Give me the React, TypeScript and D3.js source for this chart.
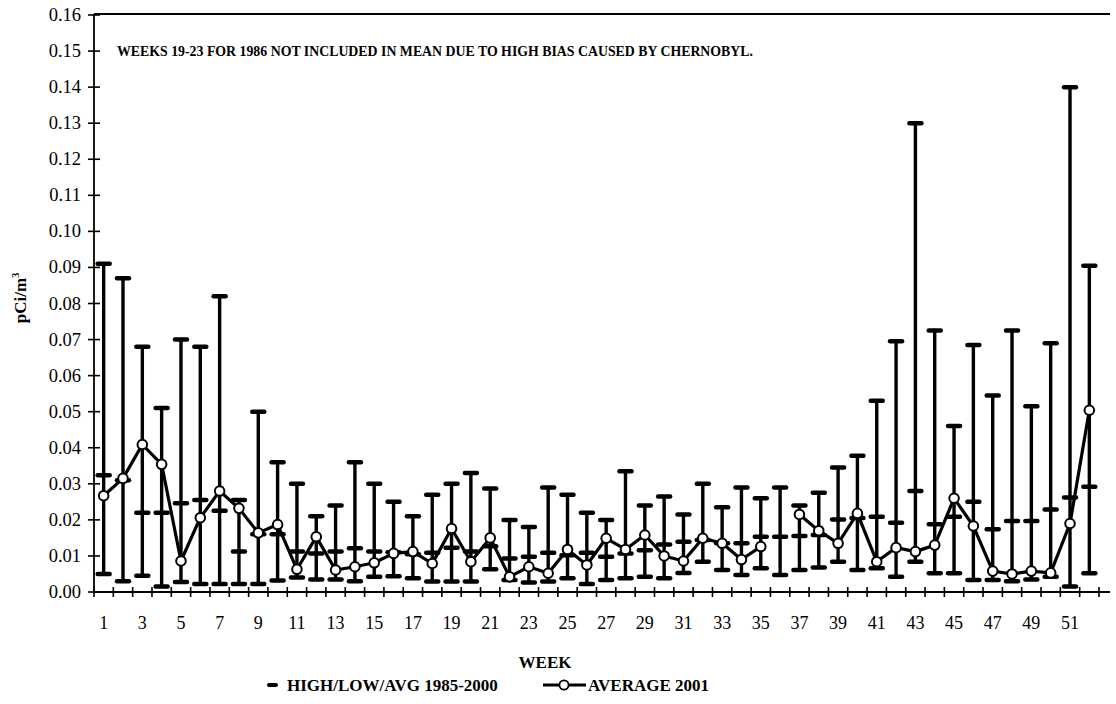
import React, {useEffect, useRef} from 'react';
import * as d3 from 'd3';

const width = 1116;
const height = 704;
const FONT = '"Liberation Serif", "Times New Roman", serif';

// weeks 1..52
const weeks = d3.range(1, 53);

// 1985-2000 high / low / avg per week
const highs = [0.091, 0.087, 0.068, 0.051, 0.070, 0.068, 0.082, 0.0255, 0.050, 0.036,
    0.030, 0.021, 0.024, 0.036, 0.030, 0.025, 0.021, 0.027, 0.030, 0.033,
    0.0287, 0.020, 0.018, 0.029, 0.027, 0.022, 0.020, 0.0335, 0.024, 0.0265,
    0.0215, 0.030, 0.0235, 0.029, 0.026, 0.029, 0.024, 0.0275, 0.0345, 0.0378,
    0.053, 0.0695, 0.130, 0.0725, 0.046, 0.0685, 0.0545, 0.0725, 0.0515, 0.069,
    0.140, 0.0905];
const lows = [0.005, 0.003, 0.0045, 0.0015, 0.0028, 0.0022, 0.0022, 0.0022, 0.0022, 0.0032,
    0.004, 0.0035, 0.0035, 0.003, 0.0042, 0.0044, 0.0038, 0.0029, 0.0029, 0.0029,
    0.0063, 0.0033, 0.0026, 0.0029, 0.0038, 0.0022, 0.0033, 0.0038, 0.0042, 0.0038,
    0.0053, 0.0084, 0.0061, 0.0047, 0.0066, 0.0047, 0.0061, 0.0068, 0.0084, 0.0061,
    0.0066, 0.0042, 0.0084, 0.0052, 0.0052, 0.0033, 0.0033, 0.003, 0.0035, 0.0042,
    0.0015, 0.0052];
const avgs = [0.0324, 0.031, 0.022, 0.022, 0.0246, 0.0255, 0.0225, 0.0112, 0.016, 0.016,
    0.0112, 0.0107, 0.0112, 0.0121, 0.0112, 0.011, 0.0105, 0.0109, 0.0123, 0.0112,
    0.0127, 0.0093, 0.0098, 0.0109, 0.0102, 0.0109, 0.0098, 0.0107, 0.0116, 0.0132,
    0.0139, 0.0144, 0.0135, 0.0135, 0.0153, 0.0153, 0.0155, 0.0158, 0.0201, 0.0205,
    0.0209, 0.0192, 0.028, 0.0188, 0.0209, 0.025, 0.0174, 0.0197, 0.0197, 0.0229,
    0.0262, 0.0292];
// 2001 weekly average (week 36 missing)
const avg2001 = [0.0267, 0.0315, 0.0409, 0.0354, 0.0086, 0.0206, 0.028, 0.0232, 0.0164, 0.0187,
    0.0063, 0.0153, 0.0061, 0.007, 0.0081, 0.0107, 0.0112, 0.0079, 0.0176, 0.0084,
    0.015, 0.0042, 0.007, 0.0052, 0.0118, 0.0075, 0.0149, 0.0118, 0.0158, 0.01,
    0.0086, 0.0149, 0.0135, 0.009, 0.0126, null, 0.0215, 0.017, 0.0135, 0.0218,
    0.0084, 0.0123, 0.0112, 0.013, 0.026, 0.0183, 0.0058, 0.005, 0.0058, 0.0053,
    0.019, 0.0504];

const yTicks = d3.range(0, 17).map(i => i / 100);
const xLabels = weeks.filter(w => w % 2 === 1 && w <= 51);

const NOTE = 'WEEKS 19-23 FOR 1986 NOT INCLUDED IN MEAN DUE TO HIGH BIAS CAUSED BY CHERNOBYL.';

const App = () => {
    const ref = useRef<SVGSVGElement>(null);

    useEffect(() => {
        const svg = d3.select(ref.current);
        svg.selectAll('*').remove();

        const left = 94, right = 1099, top = 15, bottom = 592;
        const x = d3.scaleBand<number>().domain(weeks).range([left, right]);
        const y = d3.scaleLinear().domain([0, 0.16]).range([bottom, top]);
        const cx = (w: number) => (x(w) as number) + x.bandwidth() / 2;

        const g = svg.append('g');

        // frame: top border, y axis, x axis
        g.append('line').attr('x1', left).attr('x2', 1110).attr('y1', 14).attr('y2', 14)
            .attr('stroke', '#000').attr('stroke-width', 1.8);
        g.append('line').attr('x1', left).attr('x2', left).attr('y1', 14).attr('y2', bottom)
            .attr('stroke', '#000').attr('stroke-width', 1.8);
        g.append('line').attr('x1', left).attr('x2', 1110).attr('y1', bottom).attr('y2', bottom)
            .attr('stroke', '#000').attr('stroke-width', 2.2);

        // y ticks + labels
        g.selectAll('.yt').data(yTicks).enter().append('line')
            .attr('x1', left - 6).attr('x2', left + 6)
            .attr('y1', d => y(d)).attr('y2', d => y(d))
            .attr('stroke', '#000').attr('stroke-width', 1.6);
        g.selectAll('.yl').data(yTicks).enter().append('text')
            .attr('x', left - 13).attr('y', d => y(d) + 6)
            .attr('text-anchor', 'end')
            .style('font-family', FONT).style('font-size', '18.5px')
            .text(d => d3.format('.2f')(d));

        // x ticks at week boundaries
        const bounds = d3.range(0, 53).map(i => left + i * x.step());
        g.selectAll('.xt').data(bounds).enter().append('line')
            .attr('x1', d => d).attr('x2', d => d)
            .attr('y1', bottom - 5).attr('y2', bottom + 5)
            .attr('stroke', '#000').attr('stroke-width', 1.6);
        g.selectAll('.xl').data(xLabels).enter().append('text')
            .attr('x', d => cx(d)).attr('y', 629)
            .attr('text-anchor', 'middle')
            .style('font-family', FONT).style('font-size', '18px')
            .text(d => d);

        // high/low bars
        const cap = 6;
        weeks.forEach((w, i) => {
            const px = cx(w);
            g.append('line').attr('x1', px).attr('x2', px)
                .attr('y1', y(lows[i])).attr('y2', y(highs[i]))
                .attr('stroke', '#000').attr('stroke-width', 3.4);
            [highs[i], lows[i], avgs[i]].forEach(v => {
                g.append('line').attr('x1', px - cap).attr('x2', px + cap)
                    .attr('y1', y(v)).attr('y2', y(v))
                    .attr('stroke', '#000').attr('stroke-width', 4.5)
                    .attr('stroke-linecap', 'round');
            });
        });

        // 2001 average line
        const pts = weeks.map((w, i) => ({w, v: avg2001[i]}));
        const line = d3.line<{w: number, v: number | null}>()
            .defined(d => d.v !== null)
            .x(d => cx(d.w)).y(d => y(d.v as number));
        g.append('path').datum(pts).attr('d', line)
            .attr('fill', 'none').attr('stroke', '#000').attr('stroke-width', 3.2)
            .attr('stroke-linejoin', 'round');
        g.selectAll('.pt').data(pts.filter(d => d.v !== null)).enter().append('circle')
            .attr('cx', d => cx(d.w)).attr('cy', d => y(d.v as number)).attr('r', 4.8)
            .attr('fill', '#fff').attr('stroke', '#000').attr('stroke-width', 2);

        // note
        g.append('text').attr('x', 117).attr('y', 56)
            .attr('textLength', 636).attr('lengthAdjust', 'spacingAndGlyphs')
            .style('font-family', FONT).style('font-size', '14.5px').style('font-weight', 'bold')
            .text(NOTE);

        // axis titles
        g.append('text').attr('transform', 'translate(26,298) rotate(-90)')
            .attr('text-anchor', 'middle')
            .style('font-family', FONT).style('font-size', '17px').style('font-weight', 'bold')
            .text('pCi/m').append('tspan').attr('dy', -7).style('font-size', '10px').text('3');
        g.append('text').attr('x', 545).attr('y', 668).attr('text-anchor', 'middle')
            .style('font-family', FONT).style('font-size', '17px').style('font-weight', 'bold')
            .text('WEEK');

        // legend
        g.append('line').attr('x1', 269).attr('x2', 276).attr('y1', 685).attr('y2', 685)
            .attr('stroke', '#000').attr('stroke-width', 4).attr('stroke-linecap', 'round');
        g.append('text').attr('x', 287).attr('y', 691)
            .style('font-family', FONT).style('font-size', '17px').style('font-weight', 'bold')
            .text('HIGH/LOW/AVG 1985-2000');
        g.append('line').attr('x1', 543).attr('x2', 586).attr('y1', 685).attr('y2', 685)
            .attr('stroke', '#000').attr('stroke-width', 3);
        g.append('circle').attr('cx', 564).attr('cy', 685).attr('r', 4.6)
            .attr('fill', '#fff').attr('stroke', '#000').attr('stroke-width', 1.8);
        g.append('text').attr('x', 588).attr('y', 691)
            .style('font-family', FONT).style('font-size', '17px').style('font-weight', 'bold')
            .text('AVERAGE 2001');
    }, []);

    return (
        <svg ref={ref} width={width} height={height}
             style={{position: 'absolute', left: 0, top: 0, background: '#fff'}} />
    );
};

export default App;
